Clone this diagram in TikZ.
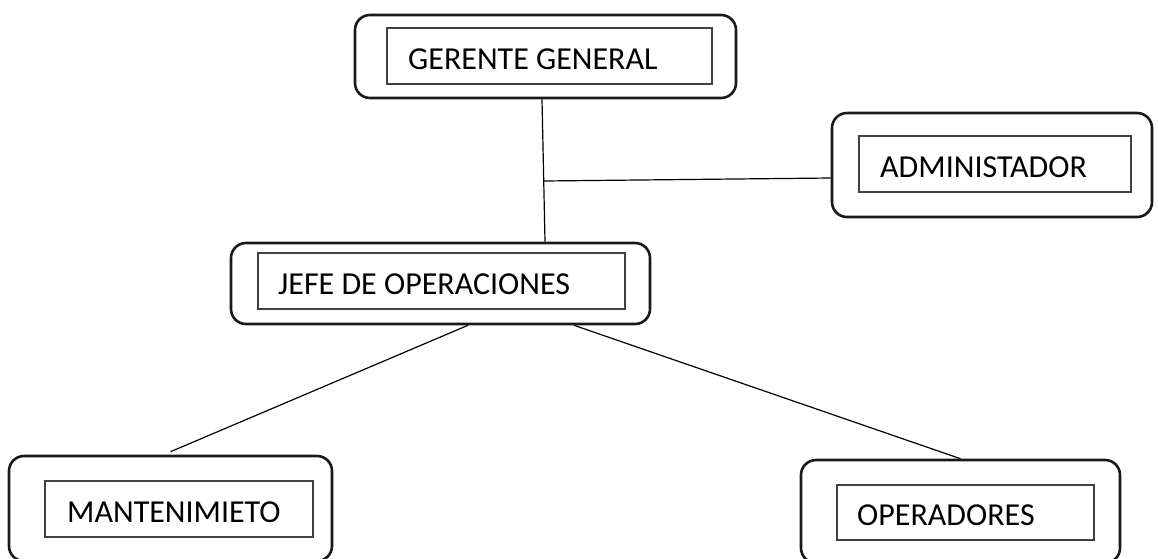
\documentclass[tikz,border=0pt]{standalone}
\usepackage{fontspec}
\setmainfont{Carlito}
\begin{document}
\begin{tikzpicture}[x=1pt,y=-1pt,
  outerbox/.style={draw=black!90, line width=2.6pt, rounded corners=15pt, minimum width=#1, inner sep=0pt},
  innerbox/.style={draw=black!75, line width=1.3pt, inner sep=0pt},
  lbl/.style={anchor=base west, inner sep=0pt, font=\fontsize{32}{38}\selectfont},
  conn/.style={draw=black, line width=1.2pt}]
\fill[white] (0,0) rectangle (1158,558);
\useasboundingbox (0,0) rectangle (1158,558);
% GERENTE GENERAL
\node[outerbox=381pt, minimum height=83pt] (ger) at (545.5,56.5) {};
\node[innerbox, minimum width=325pt, minimum height=56pt] (geri) at (549.5,56) {};
\node[lbl] (gert) at (408,69) {GERENTE GENERAL};
% ADMINISTADOR
\node[outerbox=320pt, minimum height=104pt] (adm) at (992,165) {};
\node[innerbox, minimum width=272pt, minimum height=56pt] (admi) at (995,164) {};
\node[lbl] (admt) at (880,177) {ADMINISTADOR};
% JEFE DE OPERACIONES
\node[outerbox=419pt, minimum height=81pt] (jefe) at (440.5,283.5) {};
\node[innerbox, minimum width=367pt, minimum height=56pt] (jefei) at (441.5,281) {};
\node[lbl] (jefet) at (278,294) {JEFE DE OPERACIONES};
% MANTENIMIETO
\node[outerbox=323pt, minimum height=105pt] (mant) at (170.5,508.5) {};
\node[innerbox, minimum width=268pt, minimum height=56pt] (manti) at (179,509) {};
\node[lbl] (mantt) at (67,522) {MANTENIMIETO};
% OPERADORES
\node[outerbox=319pt, minimum height=103pt] (oper) at (960.5,511.5) {};
\node[innerbox, minimum width=257pt, minimum height=55pt] (operi) at (965.5,512.5) {};
\node[lbl] (opert) at (857,525) {OPERADORES};
% connectors
\coordinate (junc) at (543,181);
\draw[conn] ([xshift=-3.5pt]ger.south) -- ([xshift=104.5pt]jefe.north);
\draw[conn] (junc) -- ([yshift=-13pt]adm.west);
\draw[conn] ([xshift=27.5pt]jefe.south) -- ([yshift=3pt]mant.north);
\draw[conn] ([xshift=133.5pt]jefe.south) -- (oper.north);
\end{tikzpicture}
\end{document}
